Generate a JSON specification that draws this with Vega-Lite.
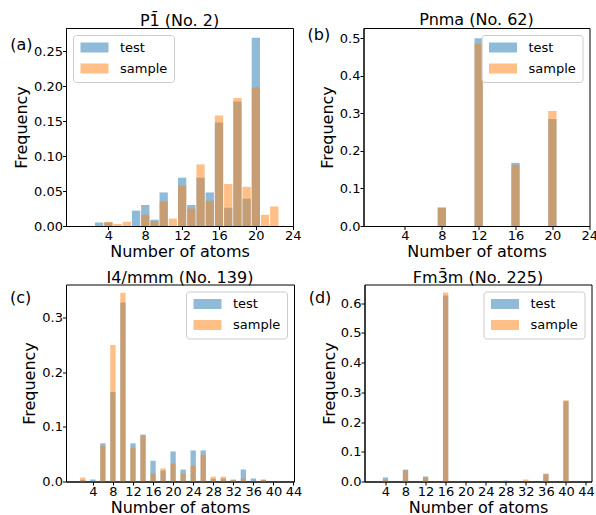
{
  "$schema": "https://vega.github.io/schema/vega-lite/v6.json",
  "padding": {"left": 9, "top": 11, "right": 0, "bottom": 0},
  "spacing": 7.5,
  "align": "none",
  "resolve": {"scale": {"color": "independent"}, "legend": {"color": "independent"}},
  "config": {
    "font": "DejaVu Sans",
    "view": {"stroke": "black", "strokeWidth": 1},
    "scale": {"continuousPadding": 0},
    "axis": {"grid": false, "domainColor": "black", "domainWidth": 1, "tickColor": "black", "tickSize": 3.5, "labelColor": "black", "titleColor": "black", "labelFontSize": 13, "titleFontSize": 16, "titleFontWeight": "normal", "labelFlush": false, "labelOverlap": false, "labelBound": false, "tickCount": 20, "labelPadding": 0.01},
    "axisX": {"titlePadding": 1},
    "axisY": {"titlePadding": 4},
    "title": {"fontSize": 16, "fontWeight": "normal", "offset": -1, "color": "black"},
    "legend": {"labelFontSize": 13, "labelColor": "black", "symbolType": "M-1,-1H4.6V1H-1Z", "symbolSize": 100, "symbolOpacity": 0.5, "symbolStrokeWidth": 0, "labelOffset": 28, "padding": 6, "rowPadding": 7, "strokeColor": "#cccccc", "fillColor": "rgba(255,255,255,0.8)", "cornerRadius": 3, "offset": 7}
  },
  "datasets": {
    "a": [
      {"n": 3, "series": "test", "freq": 0.005},
      {"n": 4, "series": "test", "freq": 0.005},
      {"n": 7, "series": "test", "freq": 0.022},
      {"n": 8, "series": "test", "freq": 0.030},
      {"n": 9, "series": "test", "freq": 0.009},
      {"n": 10, "series": "test", "freq": 0.048},
      {"n": 12, "series": "test", "freq": 0.069},
      {"n": 13, "series": "test", "freq": 0.030},
      {"n": 14, "series": "test", "freq": 0.069},
      {"n": 15, "series": "test", "freq": 0.048},
      {"n": 16, "series": "test", "freq": 0.148},
      {"n": 17, "series": "test", "freq": 0.026},
      {"n": 18, "series": "test", "freq": 0.178},
      {"n": 19, "series": "test", "freq": 0.039},
      {"n": 20, "series": "test", "freq": 0.269},
      {"n": 4, "series": "sample", "freq": 0.006},
      {"n": 5, "series": "sample", "freq": 0.003},
      {"n": 6, "series": "sample", "freq": 0.006},
      {"n": 8, "series": "sample", "freq": 0.016},
      {"n": 9, "series": "sample", "freq": 0.0067},
      {"n": 10, "series": "sample", "freq": 0.035},
      {"n": 11, "series": "sample", "freq": 0.0105},
      {"n": 12, "series": "sample", "freq": 0.058},
      {"n": 13, "series": "sample", "freq": 0.025},
      {"n": 14, "series": "sample", "freq": 0.088},
      {"n": 15, "series": "sample", "freq": 0.036},
      {"n": 16, "series": "sample", "freq": 0.158},
      {"n": 17, "series": "sample", "freq": 0.060},
      {"n": 18, "series": "sample", "freq": 0.183},
      {"n": 19, "series": "sample", "freq": 0.056},
      {"n": 20, "series": "sample", "freq": 0.198},
      {"n": 21, "series": "sample", "freq": 0.016},
      {"n": 22, "series": "sample", "freq": 0.028}
    ],
    "b": [
      {"n": 8, "series": "test", "freq": 0.049},
      {"n": 12, "series": "test", "freq": 0.500},
      {"n": 16, "series": "test", "freq": 0.168},
      {"n": 20, "series": "test", "freq": 0.285},
      {"n": 8, "series": "sample", "freq": 0.049},
      {"n": 12, "series": "sample", "freq": 0.485},
      {"n": 16, "series": "sample", "freq": 0.163},
      {"n": 20, "series": "sample", "freq": 0.306}
    ],
    "c": [
      {"n": 2, "series": "test", "freq": 0.003},
      {"n": 4, "series": "test", "freq": 0.0037},
      {"n": 6, "series": "test", "freq": 0.070},
      {"n": 8, "series": "test", "freq": 0.164},
      {"n": 10, "series": "test", "freq": 0.328},
      {"n": 12, "series": "test", "freq": 0.070},
      {"n": 14, "series": "test", "freq": 0.086},
      {"n": 16, "series": "test", "freq": 0.038},
      {"n": 18, "series": "test", "freq": 0.020},
      {"n": 20, "series": "test", "freq": 0.055},
      {"n": 22, "series": "test", "freq": 0.022},
      {"n": 24, "series": "test", "freq": 0.057},
      {"n": 26, "series": "test", "freq": 0.057},
      {"n": 28, "series": "test", "freq": 0.005},
      {"n": 30, "series": "test", "freq": 0.0055},
      {"n": 32, "series": "test", "freq": 0.003},
      {"n": 34, "series": "test", "freq": 0.022},
      {"n": 36, "series": "test", "freq": 0.0055},
      {"n": 38, "series": "test", "freq": 0.003},
      {"n": 2, "series": "sample", "freq": 0.0073},
      {"n": 6, "series": "sample", "freq": 0.065},
      {"n": 8, "series": "sample", "freq": 0.250},
      {"n": 10, "series": "sample", "freq": 0.346},
      {"n": 12, "series": "sample", "freq": 0.062},
      {"n": 14, "series": "sample", "freq": 0.084},
      {"n": 16, "series": "sample", "freq": 0.0147},
      {"n": 18, "series": "sample", "freq": 0.024},
      {"n": 20, "series": "sample", "freq": 0.033},
      {"n": 22, "series": "sample", "freq": 0.0147},
      {"n": 24, "series": "sample", "freq": 0.029},
      {"n": 26, "series": "sample", "freq": 0.049},
      {"n": 28, "series": "sample", "freq": 0.009},
      {"n": 30, "series": "sample", "freq": 0.009},
      {"n": 32, "series": "sample", "freq": 0.0037},
      {"n": 34, "series": "sample", "freq": 0.0055},
      {"n": 38, "series": "sample", "freq": 0.0037}
    ],
    "d": [
      {"n": 4, "series": "test", "freq": 0.0135},
      {"n": 8, "series": "test", "freq": 0.040},
      {"n": 12, "series": "test", "freq": 0.0168},
      {"n": 16, "series": "test", "freq": 0.626},
      {"n": 28, "series": "test", "freq": 0.003},
      {"n": 36, "series": "test", "freq": 0.0247},
      {"n": 40, "series": "test", "freq": 0.270},
      {"n": 4, "series": "sample", "freq": 0.0056},
      {"n": 8, "series": "sample", "freq": 0.037},
      {"n": 12, "series": "sample", "freq": 0.0135},
      {"n": 16, "series": "sample", "freq": 0.636},
      {"n": 32, "series": "sample", "freq": 0.0067},
      {"n": 36, "series": "sample", "freq": 0.027},
      {"n": 40, "series": "sample", "freq": 0.2735}
    ]
  },
  "vconcat": [
    {
      "spacing": 4.5,
      "resolve": {"scale": {"color": "independent"}, "legend": {"color": "independent"}},
      "hconcat": [
        {
          "title": "P1\u0304 (No. 2)",
          "width": 227, "height": 198,
          "layer": [
            {
              "data": {"name": "a"},
              "mark": {"type": "bar", "size": 8.3, "opacity": 0.5},
              "encoding": {
                "x": {"field": "n", "type": "quantitative", "scale": {"domain": [-0.6, 24.03], "nice": false, "zero": false, "padding": 0}, "axis": {"title": "Number of atoms", "values": [4, 8, 12, 16, 20, 24]}},
                "y": {"field": "freq", "type": "quantitative", "stack": null, "scale": {"domain": [0, 0.283], "nice": false}, "axis": {"title": "Frequency", "titlePadding": 4.5, "values": [0, 0.05, 0.1, 0.15, 0.2, 0.25], "format": ".2f"}},
                "color": {"field": "series", "type": "nominal", "scale": {"domain": ["test", "sample"], "range": ["#1f77b4", "#ff7f0e"]}, "legend": {"title": null, "orient": "top-left"}}
              }
            },
            {
              "data": {"values": [{"label": "(a)"}]},
              "mark": {"type": "text", "align": "left", "baseline": "middle", "fontSize": 16, "color": "black"},
              "encoding": {"x": {"datum": -6.66}, "y": {"datum": 0.259}, "text": {"field": "label"}}
            }
          ]
        },
        {
          "title": "Pnma (No. 62)",
          "width": 226, "height": 198,
          "layer": [
            {
              "data": {"name": "b"},
              "mark": {"type": "bar", "size": 8.3, "opacity": 0.5},
              "encoding": {
                "x": {"field": "n", "type": "quantitative", "scale": {"domain": [-0.5, 24.03], "nice": false, "zero": false, "padding": 0}, "axis": {"title": "Number of atoms", "values": [4, 8, 12, 16, 20, 24]}},
                "y": {"field": "freq", "type": "quantitative", "stack": null, "scale": {"domain": [0, 0.527], "nice": false}, "axis": {"title": "Frequency", "titlePadding": 4, "values": [0, 0.1, 0.2, 0.3, 0.4, 0.5], "format": ".1f"}},
                "color": {"field": "series", "type": "nominal", "scale": {"domain": ["test", "sample"], "range": ["#1f77b4", "#ff7f0e"]}, "legend": {"title": null, "orient": "top-right"}}
              }
            },
            {
              "data": {"values": [{"label": "(b)"}]},
              "mark": {"type": "text", "align": "left", "baseline": "middle", "fontSize": 16, "color": "black"},
              "encoding": {"x": {"datum": -6.57}, "y": {"datum": 0.508}, "text": {"field": "label"}}
            }
          ]
        }
      ]
    },
    {
      "spacing": 4.5,
      "resolve": {"scale": {"color": "independent"}, "legend": {"color": "independent"}},
      "hconcat": [
        {
          "title": "I4/mmm (No. 139)",
          "width": 228, "height": 197,
          "layer": [
            {
              "data": {"name": "c"},
              "mark": {"type": "bar", "size": 5.3, "opacity": 0.5},
              "encoding": {
                "x": {"field": "n", "type": "quantitative", "scale": {"domain": [-1.35, 44.1], "nice": false, "zero": false, "padding": 0}, "axis": {"title": "Number of atoms", "values": [4, 8, 12, 16, 20, 24, 28, 32, 36, 40, 44]}},
                "y": {"field": "freq", "type": "quantitative", "stack": null, "scale": {"domain": [0, 0.361], "nice": false}, "axis": {"title": "Frequency", "titlePadding": 4, "values": [0, 0.1, 0.2, 0.3], "format": ".1f"}},
                "color": {"field": "series", "type": "nominal", "scale": {"domain": ["test", "sample"], "range": ["#1f77b4", "#ff7f0e"]}, "legend": {"title": null, "orient": "top-right"}}
              }
            },
            {
              "data": {"values": [{"label": "(c)"}]},
              "mark": {"type": "text", "align": "left", "baseline": "middle", "fontSize": 16, "color": "black"},
              "encoding": {"x": {"datum": -12.5}, "y": {"datum": 0.337}, "text": {"field": "label"}}
            }
          ]
        },
        {
          "title": "Fm3\u0304m (No. 225)",
          "width": 227, "height": 197,
          "layer": [
            {
              "data": {"name": "d"},
              "mark": {"type": "bar", "size": 5.3, "opacity": 0.5},
              "encoding": {
                "x": {"field": "n", "type": "quantitative", "scale": {"domain": [-0.18, 45.1], "nice": false, "zero": false, "padding": 0}, "axis": {"title": "Number of atoms", "values": [4, 8, 12, 16, 20, 24, 28, 32, 36, 40, 44]}},
                "y": {"field": "freq", "type": "quantitative", "stack": null, "scale": {"domain": [0, 0.663], "nice": false}, "axis": {"title": "Frequency", "titlePadding": 3, "values": [0, 0.1, 0.2, 0.3, 0.4, 0.5, 0.6], "format": ".1f"}},
                "color": {"field": "series", "type": "nominal", "scale": {"domain": ["test", "sample"], "range": ["#1f77b4", "#ff7f0e"]}, "legend": {"title": null, "orient": "top-right"}}
              }
            },
            {
              "data": {"values": [{"label": "(d)"}]},
              "mark": {"type": "text", "align": "left", "baseline": "middle", "fontSize": 16, "color": "black"},
              "encoding": {"x": {"datum": -11.32}, "y": {"datum": 0.619}, "text": {"field": "label"}}
            }
          ]
        }
      ]
    }
  ]
}
